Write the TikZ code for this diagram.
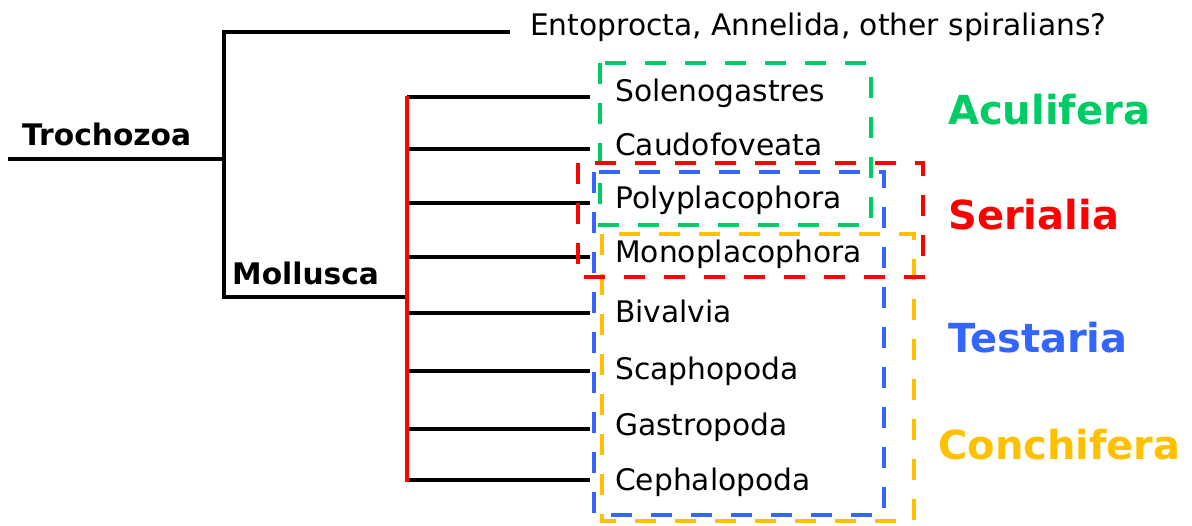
\documentclass[tikz,border=0pt]{standalone}
\usepackage{fontspec}
\setmainfont{DejaVu Sans}
\usetikzlibrary{positioning}
\definecolor{aculi}{HTML}{00CC66}
\definecolor{seri}{HTML}{FF0000}
\definecolor{testa}{HTML}{3366FF}
\definecolor{conchi}{HTML}{FFC000}

\begin{document}
\begin{tikzpicture}[x=1pt, y=-1pt,
  branch/.style={line width=4pt, black},
  taxon/.style={anchor=base west, inner sep=0pt, font=\fontsize{29.7}{32}\selectfont},
  clade/.style={anchor=base west, inner sep=0pt, font=\fontsize{29.7}{32}\selectfont\bfseries},
  group/.style={anchor=base west, inner sep=0pt, font=\fontsize{40}{44}\selectfont\bfseries},
  cladebox/.style={line width=4pt, dash pattern=on 21pt off 19pt}
]
  \useasboundingbox (0,0) rectangle (1192,526);

  % backbone of the tree
  \coordinate (root) at (8,159);
  \coordinate (troch) at (224,159);
  \coordinate (up) at (224,32);
  \coordinate (ento) at (510,32);
  \coordinate (moll) at (407,297);
  \coordinate (mtop) at (407,96);
  \coordinate (mbot) at (407,482);

  \draw[branch] (root) -- (troch);
  \draw[branch] (ento) -- (up) |- (moll);

  \node[clade] (trochlab) at (22,146) {Trochozoa};
  \node[clade] (mollab) at (232,285) {Mollusca};
  \node[taxon] (entolab) at (530,36) {Entoprocta, Annelida, other spiralians?};

  % mollusc classes
  \foreach \i/\y/\b/\name in {1/97/102/Solenogastres, 2/149/156/Caudofoveata,
      3/203/209/Polyplacophora, 4/257/263/Monoplacophora, 5/313/323/Bivalvia,
      6/371/380/Scaphopoda, 7/429/436/Gastropoda, 8/480/490/Cephalopoda} {
    \coordinate (e\i) at (590,\y);
    \draw[branch] (e\i -| moll) -- (e\i);
    \node[taxon] (t\i) at (615,\b) {\name};
  }
  \draw[line width=4pt, seri] (mtop) -- (mbot);

  % clade boxes
  \draw[cladebox, aculi] (600,63) rectangle (871,225);
  \draw[cladebox, testa] (594,172) rectangle (884,515);
  \draw[cladebox, conchi] (602,234) rectangle (914,521);
  \draw[cladebox, seri] (578,163) rectangle (923,277);

  \node[group, text=aculi] (acu) at (948,125) {Aculifera};
  \node[group, text=seri] (ser) at (948,230) {Serialia};
  \node[group, text=testa] (tes) at (948,353) {Testaria};
  \node[group, text=conchi] (con) at (938,460) {Conchifera};
\end{tikzpicture}
\end{document}
